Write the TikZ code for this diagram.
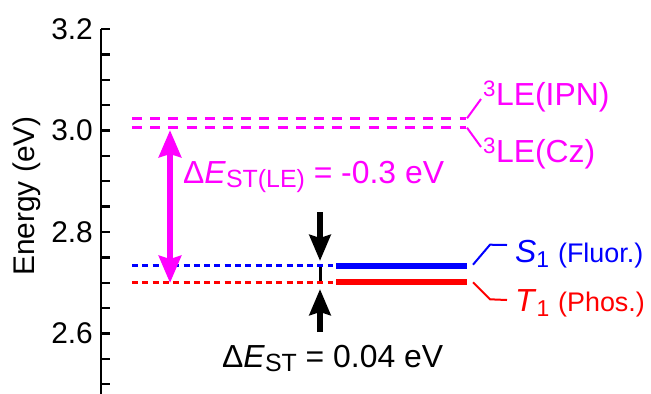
\documentclass[tikz,border=0pt]{standalone}
\usepackage{fontspec}
\setmainfont{Liberation Sans}
\usepackage{xcolor}
\usetikzlibrary{arrows.meta,positioning}
\definecolor{lemag}{HTML}{FF00FF}
\definecolor{sblue}{HTML}{0000FF}
\definecolor{tred}{HTML}{FF0000}
\newcommand{\lblfont}{\fontsize{32}{34}\selectfont}
\newcommand{\axfont}{\fontsize{30}{32}\selectfont}
\newcommand{\notefont}{\fontsize{27}{29}\selectfont}
\newcommand{\lowsub}[1]{\raisebox{-4.5bp}{\fontsize{25}{25}\selectfont #1}}
\newcommand{\statesub}[1]{\raisebox{-5bp}{\fontsize{23}{23}\selectfont #1}}
\tikzset{
  axisline/.style ={line width=2.4bp,draw=black},
  tickmark/.style ={line width=2.4bp,draw=black},
  ticklabel/.style={anchor=east,inner sep=0pt,font=\axfont},
  lbl/.style      ={anchor=base west,inner sep=0pt,font=\lblfont},
  ledash/.style   ={line width=3bp,draw=lemag,dash pattern=on 10bp off 8.2bp},
  levdot/.style   ={line width=2.7bp,dash pattern=on 6bp off 4.3bp},
  levsolid/.style ={line width=6bp},
  leader/.style   ={line width=2bp},
  gaparrow/.style ={-{Stealth[length=26bp,width=21bp,inset=3bp]},line width=6bp},
  lebar/.style    ={{Stealth[length=27bp,width=22bp,inset=3bp]}-{Stealth[length=27bp,width=22bp,inset=3bp]},
                    line width=6.5bp,draw=lemag}
}

\begin{document}
\begin{tikzpicture}[x=1bp,y=-1bp]
  \useasboundingbox (0,0) rectangle (651,393);
  \coordinate (axtop) at (101,29);
  \coordinate (axbot) at (101,395);
  \draw[axisline] (axtop) -- (axbot);
  \foreach \k in {0,...,14}
    \draw[tickmark] (axtop) ++(0,\k*25.375) -- ++(9,0);
  \foreach \v/\k in {3.2/0,3.0/4,2.8/8,2.6/12}
    \node[ticklabel] (tick\k) at (93,29+\k*25.375) {\v};
  \node[rotate=90,font=\axfont] (ylabel) at (27,196) {Energy (eV)};

  \coordinate (ipnL) at (132,118.3);
  \coordinate (ipnR) at (466,118.3);
  \coordinate (czL) at (132,127.7);
  \coordinate (czR) at (466,127.7);
  \draw[ledash] (ipnL) -- (ipnR);
  \draw[ledash] (czL) -- (czR);

  \coordinate (sL) at (132,265.7);
  \coordinate (sM) at (333,265.7);
  \coordinate (sR) at (467,265.7);
  \coordinate (tL) at (132,282.3);
  \coordinate (tM) at (333,282.3);
  \coordinate (tR) at (467,282.3);
  \draw[levdot,draw=sblue] (sL) -- (sM);
  \draw[levdot,draw=tred] (tL) -- (tM);
  \draw[levsolid,draw=sblue] ([xshift=3bp]sM) -- (sR);
  \draw[levsolid,draw=tred] ([xshift=3bp]tM) -- (tR);

  \node[lbl,text=lemag] (ipn) at (483,105) {\textsuperscript{3}LE(IPN)};
  \node[lbl,text=lemag] (cz) at (483,162) {\textsuperscript{3}LE(Cz)};
  \node[lbl,text=sblue] (s1) at (515,262) {\textit{S}\statesub{1} {\notefont(Fluor.)}};
  \node[lbl,text=tred] (t1) at (515,311) {\textit{T}\statesub{1} {\notefont(Phos.)}};
  \draw[leader,lemag] ([xshift=1bp]ipnR) -- ([xshift=-2bp,yshift=6bp]ipn.base west);
  \draw[leader,lemag] ([xshift=1bp]czR) -- ([xshift=-2bp,yshift=15bp]cz.base west);
  \draw[leader,sblue] ([xshift=6bp,yshift=1bp]sR) -- ++(17,-20)
    -- ([xshift=-8bp,yshift=17bp]s1.base west);
  \draw[leader,tred] ([xshift=6bp]tR) -- ++(17,17)
    -- ([xshift=-8bp,yshift=11bp]t1.base west);

  \coordinate (leTop) at (170,130);
  \coordinate (leBot) at (170,283);
  \draw[lebar] (leBot) -- (leTop);
  \node[lbl,text=lemag] (dele) at (183,183)
    {Δ\textit{E}\lowsub{ST(LE)} = -0.3 eV};

  \coordinate (gapS) at (320,261);
  \coordinate (gapT) at (320,289);
  \draw[gaparrow] (320,212) coordinate (downst) -- (gapS);
  \draw[gaparrow] (320,332) coordinate (upst) -- (gapT);
  \draw[line width=3bp] (320,267) -- (320,281);
  \node[lbl] (dest) at (222,367) {Δ\textit{E}\lowsub{ST} = 0.04 eV};
\end{tikzpicture}
\end{document}
